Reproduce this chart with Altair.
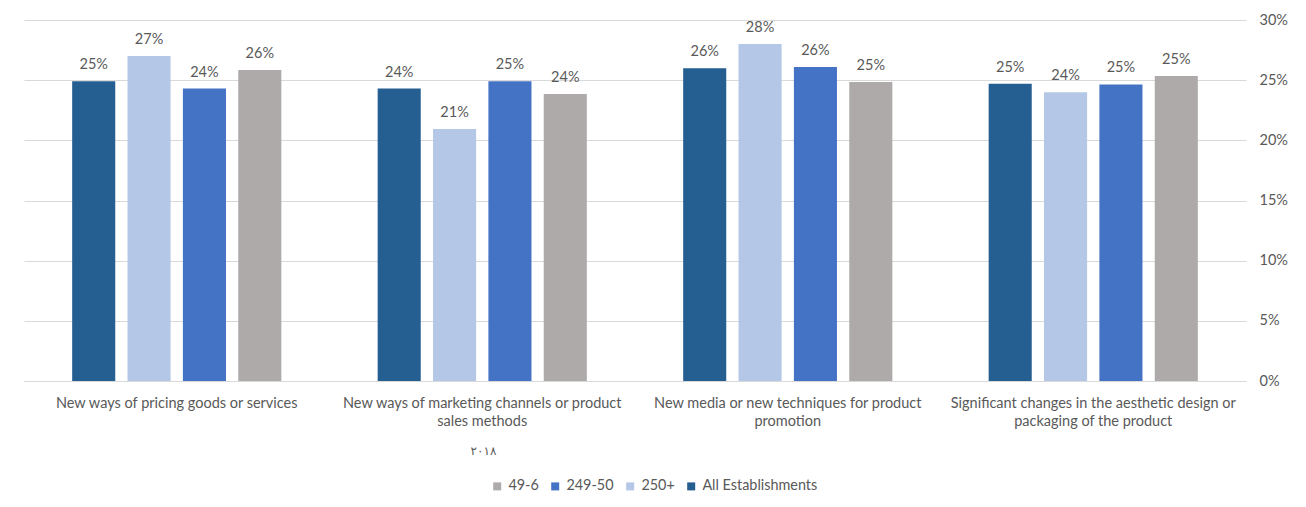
import altair as alt
import pandas as pd

categories = [
    "New ways of pricing goods or services",
    "New ways of marketing channels or product sales methods",
    "New media or new techniques for product promotion",
    "Significant changes in the aesthetic design or packaging of the product",
]
label_lines = [
    ["New ways of pricing goods or services"],
    ["New ways of marketing channels or product", "sales methods"],
    ["New media or new techniques for product", "promotion"],
    ["Significant changes in the aesthetic design or", "packaging of the product"],
]
series_bar_order = ["All Establishments", "250+", "249-50", "49-6"]
legend_order = ["49-6", "249-50", "250+", "All Establishments"]
colors = {"49-6": "#AEAAAA", "249-50": "#4472C4", "250+": "#B4C7E7", "All Establishments": "#255E91"}

all_est = [0.249, 0.243, 0.260, 0.247]
s250 = [0.270, 0.2095, 0.280, 0.240]
s249 = [0.243, 0.249, 0.261, 0.2465]
s49 = [0.2585, 0.2385, 0.2485, 0.2535]

values = {"All Establishments": all_est, "250+": s250, "249-50": s249, "49-6": s49}
rows = []
for s in series_bar_order:
    for c, v in zip(categories, values[s]):
        rows.append({"category": c, "series": s, "value": v})
df = pd.DataFrame(rows)

mapping = ", ".join(
    "'" + c + "': " + "[" + ", ".join("'" + l + "'" for l in ls) + "]"
    for c, ls in zip(categories, label_lines)
)
label_expr = "{" + mapping + "}[datum.label]"

FONT = "Lato"
GREY = "#595959"
FS = 14.5

x = alt.X(
    "category:N",
    sort=categories,
    scale=alt.Scale(paddingInner=0, paddingOuter=0),
    axis=alt.Axis(
        title="٢٠١٨",
        titleX=459,
        titleY=69,
        titleAlign="center",
        titleBaseline="middle",
        titleFontWeight="normal",
        titleFontSize=12,
        titleColor=GREY,
        titleFont="DejaVu Sans",
        labelAngle=0,
        labelExpr=label_expr,
        labelFont=FONT,
        labelFontSize=FS,
        labelColor=GREY,
        labelLimit=0,
        labelPadding=22,
        labelLineHeight=18,
        labelBaseline="middle",
        ticks=False,
        domainColor="#D9D9D9",
        grid=False,
    ),
)
xoff = alt.XOffset(
    "series:N",
    sort=series_bar_order,
    scale=alt.Scale(paddingInner=0.222, paddingOuter=0.87),
)
y = alt.Y(
    "value:Q",
    scale=alt.Scale(domain=[0, 0.3]),
    axis=alt.Axis(
        title=None,
        orient="right",
        values=[0, 0.05, 0.1, 0.15, 0.2, 0.25, 0.3],
        format=".0%",
        labelFont=FONT,
        labelFontSize=FS,
        labelColor=GREY,
        labelPadding=13,
        labelAlign="left",
        ticks=False,
        domain=False,
        gridColor="#D9D9D9",
    ),
)
color = alt.Color(
    "series:N",
    sort=legend_order,
    scale=alt.Scale(domain=legend_order, range=[colors[s] for s in legend_order]),
    legend=alt.Legend(
        title=None,
        orient="none",
        direction="horizontal",
        legendX=466,
        legendY=459,
        symbolType="square",
        symbolSize=64,
        symbolStrokeWidth=0,
        labelFont=FONT,
        labelFontSize=14.4,
        labelColor=GREY,
        labelOffset=4,
        columnPadding=9,
    ),
)

base = alt.Chart(df).encode(x=x, xOffset=xoff, y=y)
bars = base.mark_bar().encode(color=color)
labels = base.mark_text(
    baseline="bottom", dy=-9, font=FONT, fontSize=FS, color=GREY
).encode(text=alt.Text("value:Q", format=".0%"))

chart = (
    alt.layer(bars, labels)
    .properties(
        width=1222,
        height=361,
        autosize=alt.AutoSizeParams(type="none"),
        padding={"left": 24, "top": 20, "right": 60, "bottom": 126},
        background="white",
    )
    .configure_view(stroke=None)
)

chart.save("out.html", embed_options={"renderer": "svg", "actions": False})
